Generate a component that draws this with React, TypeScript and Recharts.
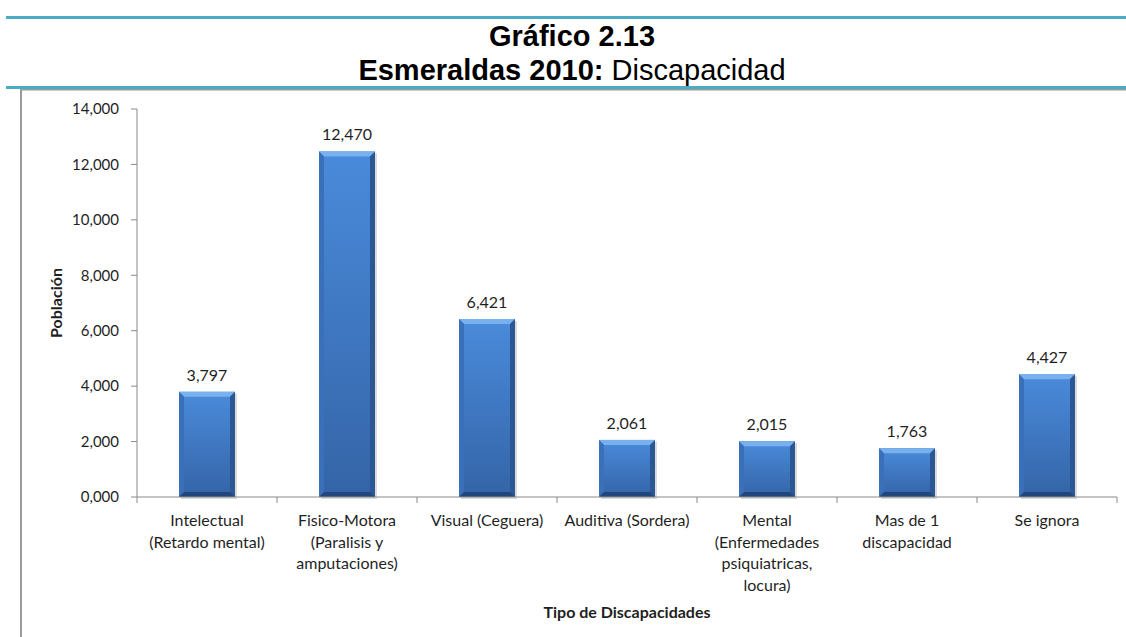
import React from 'react';
import { BarChart, Bar, XAxis, YAxis, LabelList } from 'recharts';

const categories = [
  'Intelectual\n(Retardo mental)',
  'Fisico-Motora\n(Paralisis y\namputaciones)',
  'Visual (Ceguera)',
  'Auditiva (Sordera)',
  'Mental\n(Enfermedades\npsiquiatricas,\nlocura)',
  'Mas de 1\ndiscapacidad',
  'Se ignora',
];
const values = [3797, 12470, 6421, 2061, 2015, 1763, 4427];
const yTicks = [0, 2000, 4000, 6000, 8000, 10000, 12000, 14000];

const titleLine1 = 'Gráfico 2.13';
const titleBold = 'Esmeraldas 2010:';
const titleRest = ' Discapacidad';
const yTitle = 'Población';
const xTitle = 'Tipo de Discapacidades';

const data = categories.map((c, i) => ({ name: c, value: values[i] }));

const W = 1126;
const H = 637;
const PLOT_LEFT = 137;
const PLOT_RIGHT = 1117;
const PLOT_TOP = 109;
const PLOT_BOTTOM = 497;
const Y_AXIS_W = 60;
const X_AXIS_H = 121;
const BAND = (PLOT_RIGHT - PLOT_LEFT) / categories.length;

const FONT = 'Lato, "Open Sans", sans-serif';
const TEXT = '#1f1f1f';
const AXIS = '#8a8a8a';

const fmt = (v: number) => (v === 0 ? '0,000' : v.toLocaleString('en-US'));

function BevelBar(props: any) {
  const { x, y, width, height, index } = props;
  if (!height || height <= 0) return null;
  const b = 5;
  const gid = `face-${index}`;
  const x2 = x + width;
  const y2 = y + height;
  return (
    <g>
      <defs>
        <linearGradient id={gid} x1="0" y1="0" x2="0" y2="1">
          <stop offset="0%" stopColor="#4a8bdb" />
          <stop offset="100%" stopColor="#3464a7" />
        </linearGradient>
      </defs>
      <rect x={x + 2} y={y + 2} width={width} height={height} fill="#9a9a9a" opacity={0.35} />
      <rect x={x} y={y} width={width} height={height} fill={`url(#${gid})`} />
      <polygon points={`${x},${y} ${x2},${y} ${x2 - b},${y + b} ${x + b},${y + b}`} fill="#79b0ee" />
      <polygon points={`${x},${y} ${x + b},${y + b} ${x + b},${y2 - b} ${x},${y2}`} fill="#3a70b9" />
      <polygon points={`${x2},${y} ${x2 - b},${y + b} ${x2 - b},${y2 - b} ${x2},${y2}`} fill="#2b5895" />
      <polygon points={`${x},${y2} ${x + b},${y2 - b} ${x2 - b},${y2 - b} ${x2},${y2}`} fill="#21467b" />
    </g>
  );
}

function CategoryTick(props: any) {
  const { x, y, payload, index } = props;
  const lines = String(payload.value).split('\n');
  const tickLen = 6;
  return (
    <g>
      {index === 0 && (
        <line x1={x - BAND / 2} y1={y} x2={x - BAND / 2} y2={y + tickLen} stroke={AXIS} />
      )}
      <line x1={x + BAND / 2} y1={y} x2={x + BAND / 2} y2={y + tickLen} stroke={AXIS} />
      <text x={x} y={y + 29} textAnchor="middle" fontFamily={FONT} fontSize={16} fill={TEXT}>
        {lines.map((l, i) => (
          <tspan key={i} x={x} dy={i === 0 ? 0 : 21.5}>
            {l}
          </tspan>
        ))}
      </text>
    </g>
  );
}

function YTitle(props: any) {
  const { viewBox } = props;
  const cy = viewBox.y + viewBox.height / 2;
  const cx = 55;
  return (
    <text
      x={cx}
      y={cy}
      transform={`rotate(-90 ${cx} ${cy})`}
      textAnchor="middle"
      dominantBaseline="central"
      fontFamily={FONT}
      fontWeight="bold"
      fontSize={16}
      fill={TEXT}
    >
      {yTitle}
    </text>
  );
}

export default function App() {
  return (
    <div style={{ position: 'absolute', left: 0, top: 0, width: W, height: H, background: '#fff' }}>
      <svg width={W} height={H} style={{ position: 'absolute', left: 0, top: 0 }}>
        <rect x={6} y={16} width={W - 6} height={3} fill="#4BACC6" />
        <rect x={6} y={86} width={W - 6} height={3} fill="#4BACC6" />
        <rect x={20} y={89} width={W - 20} height={1.5} fill="#9a9a9a" />
        <rect x={20} y={89} width={2} height={H - 89} fill="#9a9a9a" />
        <text
          x={572}
          y={45.5}
          textAnchor="middle"
          fontFamily='"Liberation Sans", Arial, sans-serif'
          fontWeight="bold"
          fontSize={29}
          fill="#000"
        >
          {titleLine1}
        </text>
        <text
          x={572}
          y={79.5}
          textAnchor="middle"
          fontFamily='"Liberation Sans", Arial, sans-serif'
          fontSize={29}
          fill="#000"
        >
          <tspan fontWeight="bold">{titleBold}</tspan>
          <tspan>{titleRest}</tspan>
        </text>
      </svg>
      <div style={{ position: 'absolute', left: 0, top: 0 }}>
        <BarChart
          width={W}
          height={H}
          data={data}
          margin={{
            top: PLOT_TOP,
            right: W - PLOT_RIGHT,
            bottom: H - PLOT_BOTTOM - X_AXIS_H,
            left: PLOT_LEFT - Y_AXIS_W,
          }}
          barCategoryGap="30%"
        >
          <XAxis
            dataKey="name"
            interval={0}
            height={X_AXIS_H}
            tickLine={false}
            tickSize={0}
            tickMargin={0}
            axisLine={{ stroke: AXIS }}
            tick={<CategoryTick />}
            label={{
              value: xTitle,
              position: 'insideBottom',
              offset: 0,
              fontFamily: FONT,
              fontWeight: 'bold',
              fontSize: 16,
              fill: TEXT,
            }}
          />
          <YAxis
            width={Y_AXIS_W}
            domain={[0, 14000]}
            ticks={yTicks}
            interval={0}
            tickFormatter={fmt}
            tickSize={6}
            tickMargin={12}
            axisLine={{ stroke: AXIS }}
            tickLine={{ stroke: AXIS }}
            tick={{ fontFamily: FONT, fontSize: 15, fill: TEXT }}
            label={<YTitle />}
          />
          <Bar dataKey="value" isAnimationActive={false} shape={<BevelBar />}>
            <LabelList
              dataKey="value"
              position="top"
              offset={11}
              formatter={(v: any) => Number(v).toLocaleString('en-US')}
              style={{ fontFamily: FONT, fontSize: 16, fill: TEXT }}
            />
          </Bar>
        </BarChart>
      </div>
    </div>
  );
}
